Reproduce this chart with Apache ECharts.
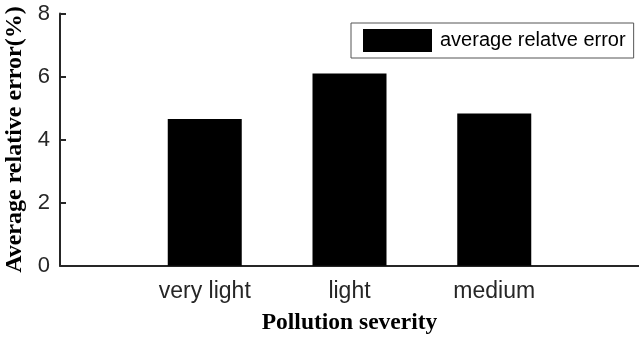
<!DOCTYPE html>
<html>
<head>
<meta charset="utf-8">
<script src="https://cdn.jsdelivr.net/npm/echarts@6/dist/echarts.min.js"></script>
<style>html,body{margin:0;padding:0;background:#fff}#c{width:639px;height:340px}</style>
</head>
<body>
<div id="c"></div>
<script>
var categories = ['', 'very light', 'light', 'medium', ''];
var seriesName = 'average relatve error';
var values = [null, 4.65, 6.10, 4.83, null];
var yTicks = [0, 2, 4, 6, 8];
var xTitle = 'Pollution severity';
var yTitle = 'Average relative error(%)';

var chart = echarts.init(document.getElementById('c'), null, {renderer: 'canvas'});
chart.setOption({
  animation: false,
  backgroundColor: '#fff',
  grid: {left: 60, right: 0, top: 13.5, bottom: 74.3, containLabel: false, outerBoundsMode: 'none'},
  legend: {
    data: [seriesName],
    left: 351, top: 23,
    padding: [6, 8, 6, 12],
    itemWidth: 69, itemHeight: 23,
    borderColor: '#555', borderWidth: 1,
    backgroundColor: '#fff',
    icon: 'rect',
    textStyle: {fontFamily: 'Liberation Sans', fontSize: 20, color: '#000', padding: [0, 0, 0, 3]}
  },
  xAxis: {
    type: 'category',
    data: categories,
    boundaryGap: false,
    name: xTitle,
    nameLocation: 'middle',
    nameGap: 45,
    nameTextStyle: {fontFamily: 'Liberation Serif', fontWeight: 'bold', fontSize: 23.5, color: '#000'},
    axisLine: {lineStyle: {color: '#262626', width: 2}},
    axisTick: {show: false},
    axisLabel: {fontFamily: 'Liberation Sans', fontSize: 23, color: '#262626', margin: 14, interval: 0},
    splitLine: {show: false}
  },
  yAxis: {
    type: 'value',
    min: yTicks[0], max: yTicks[yTicks.length - 1], interval: 2,
    name: yTitle,
    nameLocation: 'middle',
    nameGap: 25,
    nameTextStyle: {fontFamily: 'Liberation Serif', fontWeight: 'bold', fontSize: 24, color: '#000'},
    axisLine: {show: true, lineStyle: {color: '#262626', width: 2}},
    axisTick: {show: true, inside: true, length: 6, lineStyle: {color: '#262626', width: 2}},
    axisLabel: {fontFamily: 'Liberation Sans', fontSize: 22, color: '#262626', margin: 10},
    splitLine: {show: false}
  },
  series: [{
    name: seriesName,
    type: 'bar',
    data: values,
    barWidth: 74,
    itemStyle: {color: '#000'}
  }]
});
</script>
</body>
</html>
